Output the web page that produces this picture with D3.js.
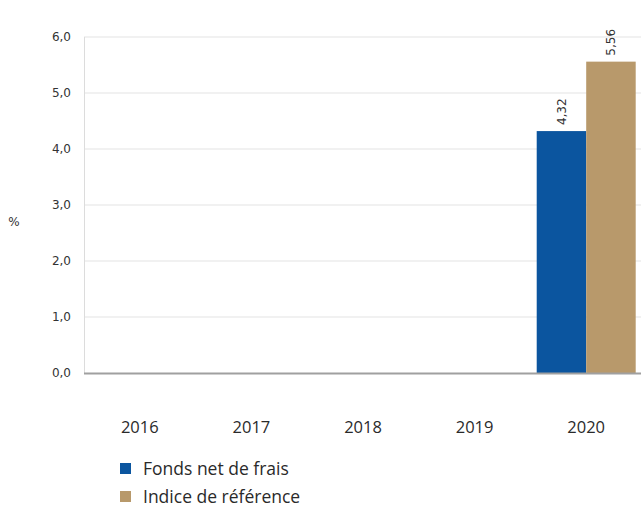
<!DOCTYPE html>
<html>
<head>
<meta charset="utf-8">
<script src="https://cdn.jsdelivr.net/npm/d3@7"></script>
<style>
  body { margin: 0; background: #fff; }
  svg { display: block; }
  .num { font-family: "DejaVu Sans", Verdana, sans-serif; font-size: 12px; fill: #333; }
  .lbl { font-family: "Open Sans", sans-serif; fill: #2a2a2a; }
</style>
</head>
<body>
<div id="chart"></div>
<script>
// Data
const years = ['2016', '2017', '2018', '2019', '2020'];
const fonds = [null, null, null, null, 4.32];
const indice = [null, null, null, null, 5.56];
const yTicks = [0, 1, 2, 3, 4, 5, 6];
const seriesNames = ['Fonds net de frais', 'Indice de référence'];
const seriesColors = ['#0b559f', '#b8996b'];

const width = 641, height = 505;
const margin = { top: 37, right: -1, bottom: 132, left: 84 };

const svg = d3.select('#chart').append('svg')
    .attr('width', width)
    .attr('height', height);

const x = d3.scaleBand()
    .domain(years)
    .range([margin.left, width - margin.right])
    .paddingInner(0.113)
    .paddingOuter(0.0565);

const xSub = d3.scaleBand()
    .domain([0, 1])
    .range([0, x.bandwidth()]);

const y = d3.scaleLinear()
    .domain([0, 6])
    .range([height - margin.bottom, margin.top]);

const fmt = v => d3.format('.1f')(v).replace('.', ',');

// Grid lines
svg.append('g')
    .selectAll('line')
    .data(yTicks.filter(t => t > 0))
    .join('line')
    .attr('x1', margin.left)
    .attr('x2', width)
    .attr('y1', d => y(d))
    .attr('y2', d => y(d))
    .attr('stroke', '#e3e3e3')
    .attr('stroke-width', 1);

// Left axis line
svg.append('line')
    .attr('x1', margin.left + 0.5).attr('x2', margin.left + 0.5)
    .attr('y1', y(6)).attr('y2', y(0))
    .attr('stroke', '#dcdcdc');

// Y tick labels
svg.append('g')
    .selectAll('text')
    .data(yTicks)
    .join('text')
    .attr('class', 'num')
    .attr('x', 71)
    .attr('y', d => y(d))
    .attr('dy', '0.35em')
    .attr('text-anchor', 'end')
    .text(fmt);

// Y axis unit
svg.append('text')
    .attr('class', 'num')
    .attr('x', 14)
    .attr('y', 222)
    .attr('dy', '0.35em')
    .attr('text-anchor', 'middle')
    .text('%');

// Bars
const series = [fonds, indice];
series.forEach((vals, si) => {
    const data = years.map((yr, i) => ({ yr, v: vals[i] })).filter(d => d.v != null);
    const g = svg.append('g');
    g.selectAll('rect')
        .data(data)
        .join('rect')
        .attr('x', d => x(d.yr) + xSub(si))
        .attr('width', xSub.bandwidth())
        .attr('y', d => y(d.v))
        .attr('height', d => y(0) - y(d.v))
        .attr('fill', seriesColors[si]);

    g.selectAll('text')
        .data(data)
        .join('text')
        .attr('class', 'num')
        .attr('transform', d => `translate(${x(d.yr) + xSub(si) + xSub.bandwidth() / 2},${y(d.v) - 6}) rotate(-90)`)
        .attr('dy', '0.35em')
        .attr('text-anchor', 'start')
        .text(d => d.v.toFixed(2).replace('.', ','));
});

// Baseline
svg.append('line')
    .attr('x1', margin.left).attr('x2', width)
    .attr('y1', y(0) + 0.5).attr('y2', y(0) + 0.5)
    .attr('stroke', '#a0a0a0')
    .attr('stroke-width', 2);

// X labels
svg.append('g')
    .selectAll('text')
    .data(years)
    .join('text')
    .attr('class', 'lbl')
    .style('font-size', '16.5px')
    .attr('x', d => x(d) + x.bandwidth() / 2)
    .attr('y', 433)
    .attr('text-anchor', 'middle')
    .text(d => d);

// Legend
const legend = svg.append('g')
    .selectAll('g')
    .data(seriesNames)
    .join('g')
    .attr('transform', (d, i) => `translate(120,${463 + i * 28})`);

legend.append('rect')
    .attr('width', 11)
    .attr('height', 11)
    .attr('fill', (d, i) => seriesColors[i]);

legend.append('text')
    .attr('class', 'lbl')
    .style('font-size', '17.5px')
    .attr('x', 23)
    .attr('y', 12)
    .text(d => d);
</script>
</body>
</html>
